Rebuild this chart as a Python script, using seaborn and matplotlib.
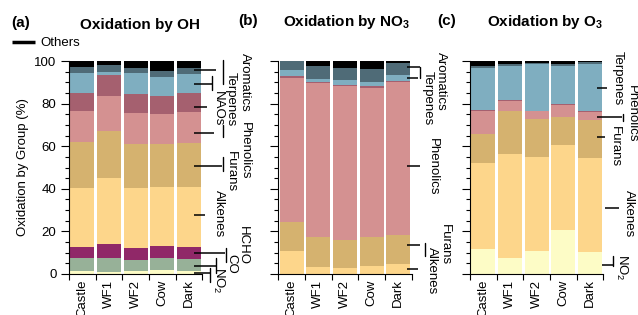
import numpy as np
import pandas as pd
import matplotlib
matplotlib.use('Agg')
import matplotlib.pyplot as plt
import matplotlib.transforms as mtransforms
from matplotlib.lines import Line2D
from matplotlib.ticker import MultipleLocator
import seaborn as sns

sns.set_theme(style='ticks')
plt.rcParams['font.family'] = ['Liberation Sans', 'DejaVu Sans']
plt.rcParams['font.size'] = 9.5
plt.rcParams['mathtext.fontset'] = 'custom'
plt.rcParams['mathtext.rm'] = 'Liberation Sans'
plt.rcParams['mathtext.bf'] = 'Liberation Sans:bold'
plt.rcParams['axes.edgecolor'] = 'black'
plt.rcParams['axes.linewidth'] = 0.8
plt.rcParams['xtick.color'] = 'black'
plt.rcParams['ytick.color'] = 'black'
plt.rcParams['text.color'] = 'black'
plt.rcParams['axes.labelcolor'] = 'black'

W, H = 638, 315

# sites and groups
sites = ['Castle', 'WF1', 'WF2', 'Cow', 'Dark']
colors = {
    'NO2': '#fdfcc6', 'CO': '#97b198', 'HCHO': '#902868',
    'Alkenes': '#fdd68b', 'Furans': '#d5b26f', 'Phenolics': '#d49191',
    'NAOs': '#a5606f', 'Terpenes': '#7faec0', 'Aromatics': '#4f6b77',
    'Others': '#000000',
}

# --- (a) Oxidation by OH, % per group (Castle, WF1, WF2, Cow, Dark)
oh_no2 = [1.5, 0.9, 1.4, 2.0, 1.4]
oh_co = [5.9, 6.8, 5.4, 5.4, 5.6]
oh_hcho = [5.4, 6.4, 5.6, 5.8, 5.7]
oh_alkenes = [27.7, 30.9, 28.2, 27.7, 28.3]
oh_furans = [21.3, 22.1, 20.6, 20.0, 20.4]
oh_phenolics = [14.7, 16.5, 14.4, 14.2, 14.8]
oh_naos = [8.3, 9.7, 8.8, 8.3, 8.6]
oh_terpenes = [9.4, 1.7, 9.8, 9.2, 9.2]
oh_aromatics = [3.0, 3.1, 2.4, 2.9, 2.6]
oh_others = [2.8, 1.9, 3.4, 4.5, 3.4]

# --- (b) Oxidation by NO3
no3_alkenes = [10.9, 3.4, 3.0, 3.8, 4.7]
no3_furans = [13.7, 14.0, 13.1, 13.4, 13.6]
no3_phenolics = [67.4, 72.1, 72.3, 70.3, 71.7]
no3_naos = [1.0, 0.6, 0.5, 0.6, 0.6]
no3_terpenes = [2.8, 1.4, 2.0, 2.2, 2.8]
no3_aromatics = [4.2, 6.0, 5.7, 5.9, 5.5]
no3_others = [0.0, 2.5, 3.4, 3.8, 1.1]

# --- (c) Oxidation by O3
o3_no2 = [11.7, 7.4, 10.8, 20.7, 10.3]
o3_alkenes = [40.6, 48.9, 44.3, 39.9, 44.2]
o3_furans = [13.4, 20.2, 17.5, 13.1, 17.8]
o3_phenolics = [11.0, 4.8, 3.8, 5.8, 3.9]
o3_naos = [0.3, 0.3, 0.3, 0.3, 0.3]
o3_terpenes = [19.8, 15.9, 21.8, 18.0, 22.0]
o3_aromatics = [0.9, 0.9, 0.6, 0.6, 1.0]
o3_others = [2.3, 1.6, 0.9, 1.6, 0.5]

df_oh = pd.DataFrame({'NO2': oh_no2, 'CO': oh_co, 'HCHO': oh_hcho,
                      'Alkenes': oh_alkenes, 'Furans': oh_furans,
                      'Phenolics': oh_phenolics, 'NAOs': oh_naos,
                      'Terpenes': oh_terpenes, 'Aromatics': oh_aromatics,
                      'Others': oh_others}, index=sites)
df_no3 = pd.DataFrame({'Alkenes': no3_alkenes, 'Furans': no3_furans,
                       'Phenolics': no3_phenolics, 'NAOs': no3_naos,
                       'Terpenes': no3_terpenes, 'Aromatics': no3_aromatics,
                       'Others': no3_others}, index=sites)
df_o3 = pd.DataFrame({'NO2': o3_no2, 'Alkenes': o3_alkenes,
                      'Furans': o3_furans, 'Phenolics': o3_phenolics,
                      'NAOs': o3_naos, 'Terpenes': o3_terpenes,
                      'Aromatics': o3_aromatics, 'Others': o3_others},
                     index=sites)

# side labels: (text, leader y in %, leader start / end in axes fraction, text centre px)
labels_oh = [
    ('Aromatics', 95.8, 0.938, 1.103, 245, 82),
    ('Terpenes', 89.1, 0.938, 1.073, 231, 99),
    ('NAOs', 78.6, 0.938, 1.035, 218, 109),
    ('Phenolics', 66.4, 0.938, 1.088, 245, 151),
    ('Furans', 50.8, 0.938, 1.148, 231, 172),
    ('Alkenes', 27.7, 0.938, 1.020, 219, 214),
    ('HCHO', 9.7, 0.938, 1.170, 243, 245),
    ('CO', 3.9, 0.938, 1.110, 231, 264),
    ('NO$_2$', 0.4, 0.938, 1.065, 219, 280),
]
labels_no3 = [
    ('Aromatics', 97.2, 0.965, 1.063, 441, 81),
    ('Terpenes', 92.0, 0.965, 1.048, 428, 98),
    ('Phenolics', 50.7, 0.965, 1.063, 433, 167),
    ('Furans', 13.6, 0.965, 1.063, 445, 245),
    ('Alkenes', 2.3, 0.965, 1.048, 432, 271),
]
labels_o3 = [
    ('Terpenes', 87.5, 0.953, 1.028, 618, 78),
    ('Phenolics', 73.6, 0.953, 1.140, 632, 114),
    ('Furans', 64.2, 0.953, 1.013, 615, 147),
    ('Alkenes', 31.2, 1.013, 1.118, 629, 214),
    ('NO$_2$', 4.2, 0.990, 1.080, 622, 267),
]
# little vertical bars beside some labels (x, y top, y bottom), px
label_bars = [
    (223, 60, 84), (212, 76, 90), (223, 125, 137), (223, 157, 171),
    (226, 248, 262), (216, 258, 273), (210, 268, 282),
    (420, 67, 78), (425, 243, 256),
    (623, 114, 121), (613, 256, 266),
]

fig = plt.figure(figsize=(W / 100, H / 100), dpi=100)
ax_w = 133.3 / W
ax_b = 1 - 274 / H
ax_h = 213 / H
axes = [fig.add_axes([69 / W, ax_b, ax_w, ax_h]),
        fig.add_axes([278.3 / W, ax_b, ax_w, ax_h]),
        fig.add_axes([470 / W, ax_b, ax_w, ax_h])]

panels = [(df_oh, labels_oh), (df_no3, labels_no3), (df_o3, labels_o3)]

for i, (ax, (df, labs)) in enumerate(zip(axes, panels)):
    cum = df.cumsum(axis=1)
    # stacked bars: draw cumulative totals from the top layer down
    for g in reversed(df.columns.tolist()):
        sns.barplot(x=sites, y=cum[g].values, order=sites, color=colors[g],
                    saturation=1, width=0.9, errorbar=None,
                    linewidth=0, edgecolor='none', ax=ax)
    ax.set_xlim(-0.5, 4.5)
    ax.set_ylim(0, 100)
    ax.set_xlabel('')
    ax.set_ylabel('')
    ax.set_xticks(range(len(sites)))
    ax.set_xticklabels(sites, rotation=90)
    ax.set_xticks(np.arange(-0.5, 5, 1), minor=True)
    ax.tick_params(axis='x', which='major', length=0, pad=4, labelsize=9.5)
    ax.tick_params(axis='x', which='minor', length=4.5, width=0.8)
    ax.set_yticks(range(0, 101, 20))
    ax.yaxis.set_minor_locator(MultipleLocator(5))
    ax.tick_params(axis='y', which='major', length=5.5, width=0.8, labelsize=9.5)
    ax.tick_params(axis='y', which='minor', length=3, width=0.8)
    if i > 0:
        ax.tick_params(axis='y', labelleft=False)
    sns.despine(ax=ax)

    trans = mtransforms.blended_transform_factory(ax.transAxes, ax.transData)
    for text, yv, x0, x1, tx, ty in labs:
        ax.plot([x0, x1], [yv, yv], color='black', lw=1.1,
                transform=trans, clip_on=False, solid_capstyle='butt')
        fig.text(tx / W, 1 - ty / H, text, rotation=270,
                 ha='center', va='center', fontsize=9.5)

for bx, by0, by1 in label_bars:
    fig.add_artist(Line2D([bx / W, bx / W], [1 - by0 / H, 1 - by1 / H],
                          color='black', lw=1.0))

axes[0].set_ylabel('Oxidation by Group (%)', fontsize=9.5, labelpad=4)

# panel letters and titles
fig.text(21 / W, 1 - 26.5 / H, '(a)', weight='bold', fontsize=11, ha='center', va='baseline')
fig.text(140 / W, 1 - 29.5 / H, 'Oxidation by OH', weight='bold', fontsize=11,
         ha='center', va='baseline')
fig.text(248 / W, 1 - 25 / H, '(b)', weight='bold', fontsize=11, ha='center', va='baseline')
fig.text(347 / W, 1 - 26 / H, r'Oxidation by NO$_\mathbf{3}$', weight='bold', fontsize=11,
         ha='center', va='baseline')
fig.text(447 / W, 1 - 25 / H, '(c)', weight='bold', fontsize=11, ha='center', va='baseline')
fig.text(545 / W, 1 - 26 / H, r'Oxidation by O$_\mathbf{3}$', weight='bold', fontsize=11,
         ha='center', va='baseline')

# "Others" key
fig.add_artist(Line2D([12 / W, 35 / W], [1 - 42 / H, 1 - 42 / H], color='black',
                      lw=2.5, solid_capstyle='butt'))
fig.text(40 / W, 1 - 43 / H, 'Others', ha='left', va='center', fontsize=9.5)

fig.savefig('out.png', dpi=100)
